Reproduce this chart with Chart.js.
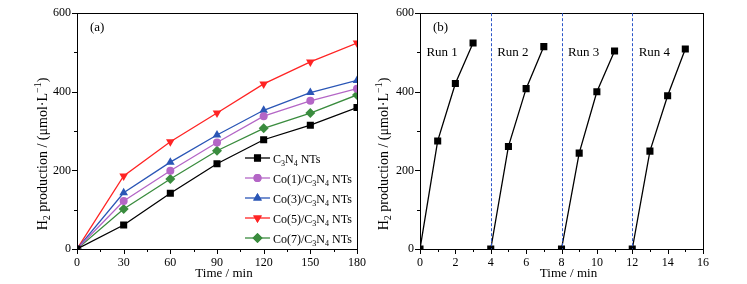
<!DOCTYPE html>
<html>
<head>
<meta charset="utf-8">
<script src="https://cdn.jsdelivr.net/npm/chart.js@4/dist/chart.umd.min.js"></script>
<style>
  body { margin: 0; background: #fff; width: 747px; height: 284px; overflow: hidden; }
  canvas { position: absolute; top: 0; }
</style>
</head>
<body>
<canvas id="left" width="380" height="284" style="left:0"></canvas>
<canvas id="right" width="377" height="284" style="left:370px"></canvas>
<script>
// panel (a)
const times = [0, 30, 60, 90, 120, 150, 180];
const c3n4 = [0, 61, 142, 217, 278, 315, 360];
const co1 = [0, 122, 199, 271, 338, 377, 408];
const co3 = [0, 143, 221, 290, 353, 398, 429];
const co5 = [0, 186, 273, 346, 420, 476, 524];
const co7 = [0, 102, 178, 250, 307, 346, 392];

// panel (b)
const runTimes = [[0, 1, 2, 3], [4, 5, 6, 7], [8, 9, 10, 11], [12, 13, 14, 15]];
const runValues = [[0, 275, 421, 524], [0, 261, 408, 515], [0, 244, 400, 504], [0, 249, 390, 509]];
const runLabels = ["Run 1", "Run 2", "Run 3", "Run 4"];
const runBreaks = [4, 8, 12];

const FONT = "'Liberation Serif', 'DejaVu Serif', serif";

const seriesA = [
  { name: [["C", ""], ["3", "sub"], ["N", ""], ["4", "sub"], [" NTs", ""]], data: c3n4, color: "#000000", style: "rect", radius: 5, rot: 0 },
  { name: [["Co(1)/C", ""], ["3", "sub"], ["N", ""], ["4", "sub"], [" NTs", ""]], data: co1, color: "#b466c6", style: "circle", radius: 4, rot: 0 },
  { name: [["Co(3)/C", ""], ["3", "sub"], ["N", ""], ["4", "sub"], [" NTs", ""]], data: co3, color: "#2a56b6", style: "triangle", radius: 5, rot: 0 },
  { name: [["Co(5)/C", ""], ["3", "sub"], ["N", ""], ["4", "sub"], [" NTs", ""]], data: co5, color: "#ff2424", style: "triangle", radius: 5, rot: 180 },
  { name: [["Co(7)/C", ""], ["3", "sub"], ["N", ""], ["4", "sub"], [" NTs", ""]], data: co7, color: "#3a8c3e", style: "rectRot", radius: 5, rot: 0 }
];

const yTitle = [["H", ""], ["2", "sub"], [" production / (μmol·L", ""], ["−1", "sup"], [")", ""]];

function drawRich(ctx, parts, x, y, size, align) {
  const small = Math.round(size * 0.68);
  let w = 0;
  parts.forEach(p => {
    ctx.font = (p[1] ? small : size) + "px " + FONT;
    w += ctx.measureText(p[0]).width;
  });
  let cx = align === "center" ? x - w / 2 : x;
  ctx.textAlign = "left";
  ctx.textBaseline = "alphabetic";
  parts.forEach(p => {
    ctx.font = (p[1] ? small : size) + "px " + FONT;
    let dy = 0;
    if (p[1] === "sub") dy = size * 0.25;
    if (p[1] === "sup") dy = -size * 0.38;
    ctx.fillText(p[0], cx, y + dy);
    cx += ctx.measureText(p[0]).width;
  });
}

function framePlugin(cfg) {
  return {
    id: "frame",
    afterDraw(chart) {
      const ctx = chart.ctx;
      const a = chart.chartArea;
      const xs = chart.scales.x, ys = chart.scales.y;
      ctx.save();
      ctx.strokeStyle = "#000";
      ctx.lineWidth = 1;
      ctx.strokeRect(Math.round(a.left) + 0.5, Math.round(a.top) + 0.5, Math.round(a.right - a.left), Math.round(a.bottom - a.top));
      ctx.beginPath();
      for (let v = xs.min; v <= xs.max + 1e-6; v += cfg.xMinor) {
        const px = Math.round(xs.getPixelForValue(v)) + 0.5;
        const len = Math.abs(v / cfg.xMajor - Math.round(v / cfg.xMajor)) < 1e-6 ? 5 : 3;
        ctx.moveTo(px, a.bottom);
        ctx.lineTo(px, a.bottom + len);
      }
      for (let v = ys.min; v <= ys.max + 1e-6; v += cfg.yMinor) {
        const py = Math.round(ys.getPixelForValue(v)) + 0.5;
        const len = Math.abs(v / cfg.yMajor - Math.round(v / cfg.yMajor)) < 1e-6 ? 5 : 3;
        ctx.moveTo(a.left, py);
        ctx.lineTo(a.left - len, py);
      }
      ctx.stroke();

      ctx.fillStyle = "#000";
      ctx.font = "13px " + FONT;
      ctx.textAlign = "center";
      ctx.textBaseline = "middle";
      ctx.fillText("Time / min", (a.left + a.right) / 2 + 7, 274);

      ctx.save();
      ctx.translate(cfg.yTitleX, 154);
      ctx.rotate(-Math.PI / 2);
      drawRich(ctx, yTitle, 0, 4.5, 14, "center");
      ctx.restore();

      ctx.font = "13px " + FONT;
      ctx.textAlign = "left";
      ctx.textBaseline = "middle";
      ctx.fillText(cfg.panel, a.left + 13, 28);

      if (cfg.extra) cfg.extra(chart, ctx);
      ctx.restore();
    }
  };
}

function baseScales(xMax, xStep, yWidth) {
  return {
    x: {
      type: "linear", min: 0, max: xMax,
      grid: { display: false, drawTicks: false },
      border: { display: false },
      ticks: { stepSize: xStep, color: "#000", padding: 7, font: { family: FONT, size: 12 } },
      afterFit(s) { s.height = 35; }
    },
    y: {
      min: 0, max: 600,
      grid: { display: false, drawTicks: false },
      border: { display: false },
      ticks: { stepSize: 200, color: "#000", padding: 6, font: { family: FONT, size: 12 } },
      afterFit(s) { s.width = yWidth; }
    }
  };
}

new Chart(document.getElementById("left"), {
  type: "line",
  data: {
    datasets: seriesA.map(s => ({
      data: times.map((t, i) => ({ x: t, y: s.data[i] })),
      borderColor: s.color,
      backgroundColor: s.color,
      borderWidth: 1.3,
      pointStyle: s.style,
      pointRadius: s.radius,
      pointRotation: s.rot,
      pointBorderWidth: 0,
      tension: 0
    }))
  },
  options: {
    responsive: false,
    animation: false,
    layout: { padding: { top: 12.5, right: 23, left: 0, bottom: 0 } },
    plugins: { legend: { display: false }, tooltip: { enabled: false } },
    scales: baseScales(180, 30, 77)
  },
  plugins: [framePlugin({
    panel: "(a)", xMinor: 15, xMajor: 30, yMinor: 100, yMajor: 200, yTitleX: 42,
    extra(chart, ctx) {
      seriesA.forEach((s, i) => {
        const y = 158 + i * 20;
        ctx.strokeStyle = s.color;
        ctx.fillStyle = s.color;
        ctx.lineWidth = 1.3;
        ctx.beginPath();
        ctx.moveTo(245, y);
        ctx.lineTo(270, y);
        ctx.stroke();
        Chart.helpers.drawPoint(ctx, { pointStyle: s.style, radius: s.radius, rotation: s.rot, borderWidth: 0 }, 257.5, y);
        ctx.fill();
        ctx.fillStyle = "#000";
        drawRich(ctx, s.name, 273, y + 4.5, 12, "left");
      });
    }
  })]
});

new Chart(document.getElementById("right"), {
  type: "line",
  data: {
    datasets: runTimes.map((ts, r) => ({
      data: ts.map((t, i) => ({ x: t, y: runValues[r][i] })),
      borderColor: "#000",
      backgroundColor: "#000",
      borderWidth: 1.3,
      pointStyle: "rect",
      pointRadius: 5,
      pointBorderWidth: 0,
      tension: 0
    }))
  },
  options: {
    responsive: false,
    animation: false,
    layout: { padding: { top: 12.5, right: 44, left: 0, bottom: 0 } },
    plugins: { legend: { display: false }, tooltip: { enabled: false } },
    scales: baseScales(16, 2, 50)
  },
  plugins: [framePlugin({
    panel: "(b)", xMinor: 1, xMajor: 2, yMinor: 100, yMajor: 200, yTitleX: 13,
    extra(chart, ctx) {
      const a = chart.chartArea;
      const xs = chart.scales.x, ys = chart.scales.y;
      ctx.strokeStyle = "#2c55c8";
      ctx.lineWidth = 1;
      ctx.setLineDash([3, 2]);
      runBreaks.forEach(b => {
        const px = Math.round(xs.getPixelForValue(b)) + 0.5;
        ctx.beginPath();
        ctx.moveTo(px, a.top);
        ctx.lineTo(px, a.bottom);
        ctx.stroke();
      });
      ctx.setLineDash([]);
      ctx.fillStyle = "#000";
      ctx.font = "13px " + FONT;
      ctx.textAlign = "center";
      ctx.textBaseline = "middle";
      runLabels.forEach((l, i) => {
        ctx.fillText(l, xs.getPixelForValue(runTimes[i][0] + 1.25), ys.getPixelForValue(500));
      });
    }
  })]
});
</script>
</body>
</html>
